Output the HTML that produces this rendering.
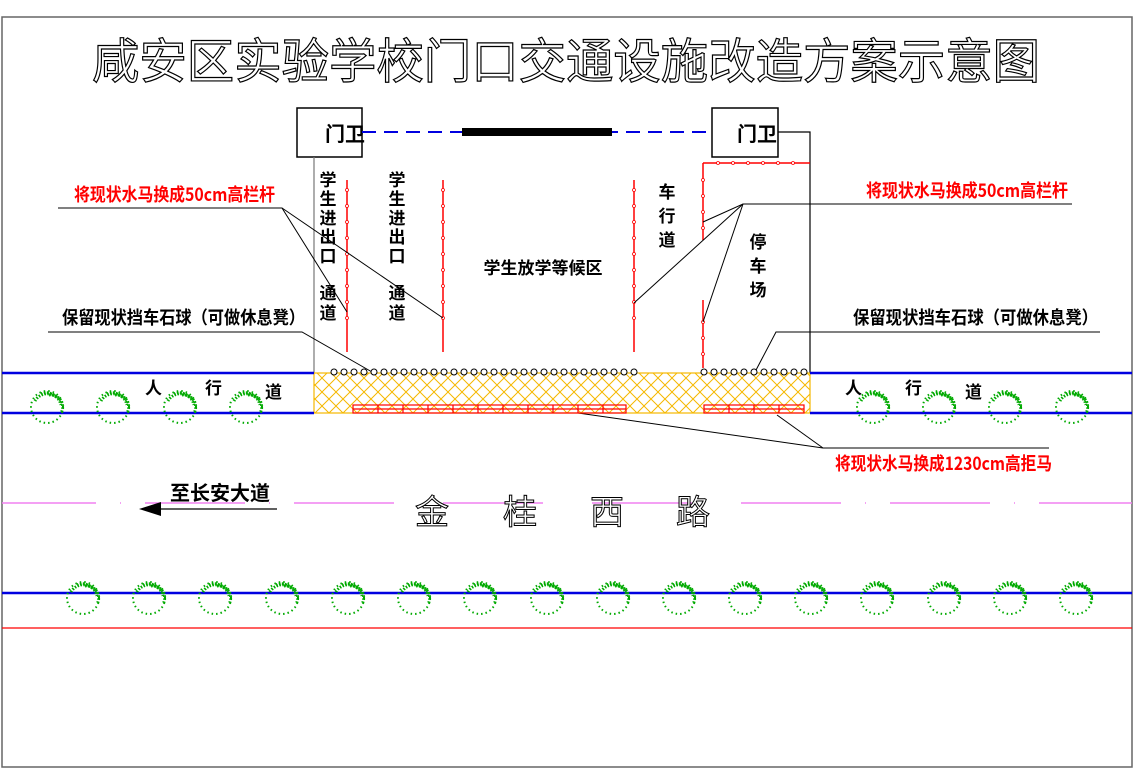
<!DOCTYPE html>
<html><head><meta charset="utf-8"><style>
html,body{margin:0;padding:0;background:#fff;}
svg{display:block;font-family:"Liberation Sans","Noto Sans CJK SC",sans-serif;}
.t{font-family:"Noto Sans CJK SC","WenQuanYi Zen Hei",sans-serif;font-weight:bold;}
</style></head><body>
<svg width="1138" height="774" viewBox="0 0 1138 774" xmlns="http://www.w3.org/2000/svg">
<defs>
<pattern id="hx" width="14" height="14" patternUnits="userSpaceOnUse">
<path d="M0 0L14 14M14 0L0 14" stroke="#f5b800" stroke-width="1" fill="none"/>
</pattern>
<g id="tree">
<circle r="16" fill="none" stroke="#0a0" stroke-width="2" stroke-dasharray="1.5 3"/>
<path d="M-12 -6A14 14 0 0 1 14 -2" fill="none" stroke="#0a0" stroke-width="3" stroke-dasharray="1.5 1.5"/>
<path d="M2 -12A12 12 0 0 1 14 6" fill="none" stroke="#0a0" stroke-width="3" stroke-dasharray="1.5 1.5"/>
<path d="M-6 -13A13 13 0 0 1 10 -9" fill="none" stroke="#0a0" stroke-width="3" stroke-dasharray="1.5 1.5"/>
</g>
</defs>
<rect x="2" y="17" width="1130" height="750" fill="none" stroke="#666" stroke-width="1.5"/>
<text x="92" y="78" textLength="948" lengthAdjust="spacingAndGlyphs" font-size="48" fill="#fff" stroke="#000" stroke-width="1.2" font-family="Noto Sans CJK SC,sans-serif">咸安区实验学校门口交通设施改造方案示意图</text>

<!-- gates -->
<rect x="297" y="108" width="65" height="49" fill="#fff" stroke="#000" stroke-width="1.5"/>
<rect x="712" y="108" width="66" height="49" fill="#fff" stroke="#000" stroke-width="1.5"/>
<text x="345" y="141" text-anchor="middle" font-size="20" class="t" font-weight="normal">门卫</text>
<text x="757" y="141" text-anchor="middle" font-size="20" class="t" font-weight="normal">门卫</text>
<line x1="362" y1="132" x2="712" y2="132" stroke="#0000e0" stroke-width="2" stroke-dasharray="14 8"/>
<rect x="462" y="128" width="150" height="8" fill="#000"/>
<polyline points="778,132 810,132 810,373" fill="none" stroke="#000" stroke-width="1.2"/>
<line x1="314" y1="157" x2="314" y2="373" stroke="#777" stroke-width="1.2"/>

<!-- red fences -->
<g stroke="#f00" stroke-width="1.5" fill="#fff">
<line x1="347" y1="180" x2="347" y2="352"/>
<line x1="443" y1="180" x2="443" y2="352"/>
<line x1="634" y1="180" x2="634" y2="352"/>
<line x1="703" y1="163" x2="703" y2="240"/>
<line x1="703" y1="300" x2="703" y2="368"/>
<line x1="703" y1="163" x2="810" y2="163"/>
</g>
<g fill="#fff" stroke="#f00" stroke-width="0.8">
<circle cx="347" cy="190" r="1.5"/><circle cx="347" cy="206" r="1.5"/><circle cx="347" cy="222" r="1.5"/><circle cx="347" cy="238" r="1.5"/><circle cx="347" cy="254" r="1.5"/><circle cx="347" cy="270" r="1.5"/><circle cx="347" cy="286" r="1.5"/><circle cx="347" cy="302" r="1.5"/><circle cx="347" cy="318" r="1.5"/>
<circle cx="443" cy="190" r="1.5"/><circle cx="443" cy="206" r="1.5"/><circle cx="443" cy="222" r="1.5"/><circle cx="443" cy="238" r="1.5"/><circle cx="443" cy="254" r="1.5"/><circle cx="443" cy="270" r="1.5"/><circle cx="443" cy="286" r="1.5"/><circle cx="443" cy="302" r="1.5"/><circle cx="443" cy="318" r="1.5"/>
<circle cx="634" cy="190" r="1.5"/><circle cx="634" cy="206" r="1.5"/><circle cx="634" cy="222" r="1.5"/><circle cx="634" cy="238" r="1.5"/><circle cx="634" cy="254" r="1.5"/><circle cx="634" cy="270" r="1.5"/><circle cx="634" cy="286" r="1.5"/><circle cx="634" cy="302" r="1.5"/><circle cx="634" cy="318" r="1.5"/>
<circle cx="703" cy="180" r="1.5"/><circle cx="703" cy="196" r="1.5"/><circle cx="703" cy="212" r="1.5"/><circle cx="703" cy="228" r="1.5"/>
<circle cx="703" cy="322" r="1.5"/><circle cx="703" cy="338" r="1.5"/><circle cx="703" cy="354" r="1.5"/>
<circle cx="718" cy="163" r="1.5"/><circle cx="733" cy="163" r="1.5"/><circle cx="748" cy="163" r="1.5"/><circle cx="763" cy="163" r="1.5"/><circle cx="778" cy="163" r="1.5"/><circle cx="793" cy="163" r="1.5"/>
</g>

<!-- area labels -->
<g class="t" font-size="17" text-anchor="middle">
<text x="328" y="186">学</text><text x="328" y="205">生</text><text x="328" y="224">进</text><text x="328" y="243">出</text><text x="328" y="262">口</text><text x="328" y="299">通</text><text x="328" y="319">道</text>
<text x="397" y="186">学</text><text x="397" y="205">生</text><text x="397" y="224">进</text><text x="397" y="243">出</text><text x="397" y="262">口</text><text x="397" y="299">通</text><text x="397" y="319">道</text>
<text x="667" y="198">车</text><text x="667" y="222">行</text><text x="667" y="246">道</text>
<text x="758" y="248">停</text><text x="758" y="272">车</text><text x="758" y="296">场</text>
<text x="543" y="274">学生放学等候区</text>
</g>

<!-- leaders -->
<g stroke="#000" stroke-width="1" fill="none">
<polyline points="58,208 282,208 347,312"/>
<line x1="282" y1="208" x2="443" y2="318"/>
<polyline points="1072,204 743,204 703,222"/>
<line x1="743" y1="204" x2="634" y2="303"/>
<line x1="743" y1="204" x2="703" y2="322"/>
<polyline points="48,332 302,332 372,372"/>
<polyline points="1100,332 776,332 755,372"/>
<polyline points="1049,448 823,448 578,413"/>
<line x1="823" y1="448" x2="777" y2="415"/>
</g>
<g class="t" font-size="18">
<text x="74" y="201" fill="#f00" textLength="201" lengthAdjust="spacingAndGlyphs">将现状水马换成50cm高栏杆</text>
<text x="866" y="197" fill="#f00" textLength="202" lengthAdjust="spacingAndGlyphs">将现状水马换成50cm高栏杆</text>
<text x="62" y="324" fill="#000" textLength="243" lengthAdjust="spacingAndGlyphs">保留现状挡车石球（可做休息凳）</text>
<text x="853" y="324" fill="#000" textLength="245" lengthAdjust="spacingAndGlyphs">保留现状挡车石球（可做休息凳）</text>
<text x="835" y="470" fill="#f00" textLength="217" lengthAdjust="spacingAndGlyphs">将现状水马换成1230cm高拒马</text>
</g>

<!-- sidewalk -->
<rect x="314" y="373" width="496" height="40" fill="url(#hx)" stroke="#f5b800" stroke-width="1.2"/>
<g stroke="#0000e0" stroke-width="2.5">
<line x1="2" y1="373" x2="314" y2="373"/><line x1="2" y1="413" x2="314" y2="413"/>
<line x1="810" y1="373" x2="1132" y2="373"/><line x1="810" y1="413" x2="1132" y2="413"/>
<line x1="2" y1="593" x2="1132" y2="593"/>
</g>
<line x1="2" y1="628" x2="1132" y2="628" stroke="#f00" stroke-width="1.2"/>
<g fill="#fff" stroke="#000" stroke-width="1">
<circle cx="334" cy="372" r="3"/><circle cx="344" cy="372" r="3"/><circle cx="354" cy="372" r="3"/><circle cx="364" cy="372" r="3"/><circle cx="374" cy="372" r="3"/><circle cx="384" cy="372" r="3"/><circle cx="394" cy="372" r="3"/><circle cx="404" cy="372" r="3"/><circle cx="414" cy="372" r="3"/><circle cx="424" cy="372" r="3"/><circle cx="434" cy="372" r="3"/><circle cx="444" cy="372" r="3"/><circle cx="454" cy="372" r="3"/><circle cx="464" cy="372" r="3"/><circle cx="474" cy="372" r="3"/><circle cx="484" cy="372" r="3"/><circle cx="494" cy="372" r="3"/><circle cx="504" cy="372" r="3"/><circle cx="514" cy="372" r="3"/><circle cx="524" cy="372" r="3"/><circle cx="534" cy="372" r="3"/><circle cx="544" cy="372" r="3"/><circle cx="554" cy="372" r="3"/><circle cx="564" cy="372" r="3"/><circle cx="574" cy="372" r="3"/><circle cx="584" cy="372" r="3"/><circle cx="594" cy="372" r="3"/><circle cx="604" cy="372" r="3"/><circle cx="614" cy="372" r="3"/><circle cx="624" cy="372" r="3"/><circle cx="634" cy="372" r="3"/>
<circle cx="704" cy="372" r="3"/><circle cx="714" cy="372" r="3"/><circle cx="724" cy="372" r="3"/><circle cx="734" cy="372" r="3"/><circle cx="744" cy="372" r="3"/><circle cx="754" cy="372" r="3"/><circle cx="764" cy="372" r="3"/><circle cx="774" cy="372" r="3"/><circle cx="784" cy="372" r="3"/><circle cx="794" cy="372" r="3"/><circle cx="804" cy="372" r="3"/>
</g>
<g fill="none" stroke="#f00" stroke-width="1.2">
<rect x="353" y="405" width="273" height="8"/><line x1="353" y1="409" x2="626" y2="409"/>
<rect x="704" y="405" width="100" height="8"/><line x1="704" y1="409" x2="804" y2="409"/>
<path d="M378 405v8M403 405v8M428 405v8M453 405v8M478 405v8M503 405v8M528 405v8M553 405v8M578 405v8M603 405v8M729 405v8M754 405v8M779 405v8"/>
</g>

<!-- trees -->
<use href="#tree" x="47" y="407"/><use href="#tree" x="113" y="407"/><use href="#tree" x="180" y="407"/><use href="#tree" x="246" y="407"/>
<use href="#tree" x="873" y="407"/><use href="#tree" x="939" y="407"/><use href="#tree" x="1005" y="407"/><use href="#tree" x="1072" y="407"/>
<use href="#tree" x="83" y="598"/><use href="#tree" x="149" y="598"/><use href="#tree" x="215" y="598"/><use href="#tree" x="282" y="598"/><use href="#tree" x="348" y="598"/><use href="#tree" x="414" y="598"/><use href="#tree" x="480" y="598"/><use href="#tree" x="547" y="598"/><use href="#tree" x="613" y="598"/><use href="#tree" x="679" y="598"/><use href="#tree" x="745" y="598"/><use href="#tree" x="811" y="598"/><use href="#tree" x="877" y="598"/><use href="#tree" x="944" y="598"/><use href="#tree" x="1010" y="598"/><use href="#tree" x="1076" y="598"/>

<g class="t" font-size="17" font-weight="normal">
<text x="145" y="394">人</text><text x="205" y="394">行</text><text x="265" y="398">道</text>
<text x="845" y="394">人</text><text x="905" y="394">行</text><text x="965" y="398">道</text>
</g>

<!-- road center -->
<g stroke="#f080f0" stroke-width="1.5">
<line x1="2" y1="503" x2="96" y2="503"/><line x1="120" y1="503" x2="121" y2="503"/><line x1="145" y1="503" x2="245" y2="503"/><line x1="269" y1="503" x2="270" y2="503"/><line x1="294" y1="503" x2="394" y2="503"/>
<line x1="443" y1="503" x2="543" y2="503"/><line x1="592" y1="503" x2="692" y2="503"/><line x1="741" y1="503" x2="841" y2="503"/><line x1="865" y1="503" x2="866" y2="503"/><line x1="890" y1="503" x2="990" y2="503"/><line x1="1014" y1="503" x2="1015" y2="503"/><line x1="1039" y1="503" x2="1132" y2="503"/>
</g>
<line x1="160" y1="509" x2="277" y2="509" stroke="#000" stroke-width="1.2"/>
<polygon points="139,509 161,502 161,516" fill="#000"/>
<text x="170" y="500" class="t" font-size="20" font-weight="normal">至长安大道</text>
<g font-size="34" font-family="Noto Sans CJK SC,sans-serif" fill="#fff" stroke="#000" stroke-width="1" text-anchor="middle">
<text x="432" y="524">金</text><text x="520" y="524">桂</text><text x="607" y="524">西</text><text x="693" y="524">路</text>
</g>
</svg>
</body></html>
